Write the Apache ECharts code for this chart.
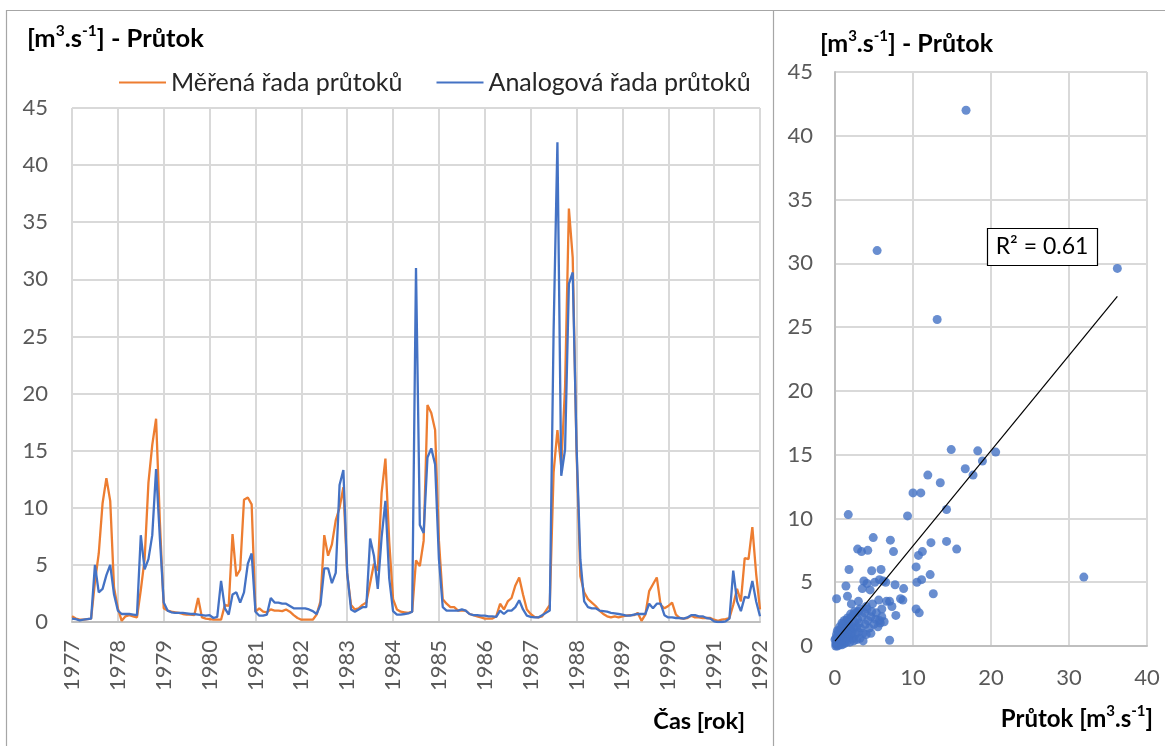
<!DOCTYPE html>
<html>
<head>
<meta charset="utf-8">
<script src="https://cdn.jsdelivr.net/npm/echarts@6/dist/echarts.min.js"></script>
<style>
  html, body { margin: 0; padding: 0; background: #ffffff; }
  #chart { width: 1165px; height: 746px; }
</style>
</head>
<body>
<div id="chart"></div>
<script>
// Monthly discharge 1977-01 .. 1992-01, measured vs. analog series [m3/s]
const seriesNames = ['Měřená řada průtoků', 'Analogová řada průtoků'];

const measured = [
  0.5, 0.3, 0.2, 0.2, 0.25, 0.3, 3.5, 6.0, 10.4, 12.6, 10.6, 3.0,      // 1977
  1.2, 0.1, 0.5, 0.6, 0.5, 0.4, 2.8, 5.5, 12.2, 15.5, 17.8, 8.7,       // 1978
  1.2, 1.0, 0.9, 0.85, 0.8, 0.7, 0.65, 0.65, 0.6, 2.1, 0.4, 0.3,       // 1979
  0.25, 0.2, 0.2, 0.2, 1.5, 1.4, 7.7, 4.0, 4.6, 10.7, 10.9, 10.3,      // 1980
  0.9, 1.2, 0.9, 0.85, 1.1, 1.0, 1.0, 0.95, 1.1, 0.9, 0.6, 0.35,       // 1981
  0.2, 0.2, 0.2, 0.2, 0.65, 1.8, 7.6, 5.8, 6.8, 8.9, 10.0, 11.8,       // 1982
  4.2, 1.5, 1.1, 1.2, 1.5, 1.7, 3.4, 5.1, 4.5, 11.3, 14.3, 7.0,        // 1983
  2.0, 1.1, 0.9, 0.85, 0.8, 0.9, 5.4, 4.9, 7.1, 19.0, 18.3, 16.8,      // 1984
  7.1, 2.0, 1.6, 1.3, 1.3, 1.0, 1.0, 1.0, 0.7, 0.6, 0.5, 0.4,          // 1985
  0.3, 0.3, 0.3, 0.5, 1.6, 1.1, 1.8, 2.1, 3.2, 3.9, 2.4, 1.1,          // 1986
  0.7, 0.45, 0.4, 0.5, 1.0, 1.5, 13.1, 16.8, 13.6, 20.6, 36.2, 31.9,   // 1987
  15.0, 4.0, 2.6, 2.0, 1.7, 1.4, 1.0, 0.7, 0.5, 0.4, 0.5, 0.4,         // 1988
  0.5, 0.55, 0.6, 0.6, 0.8, 0.1, 0.65, 2.7, 3.3, 3.9, 1.5, 1.2,        // 1989
  1.4, 1.7, 0.65, 0.35, 0.3, 0.35, 0.55, 0.4, 0.4, 0.35, 0.35, 0.35,   // 1990
  0.2, 0.1, 0.2, 0.25, 0.35, 1.5, 2.9, 1.8, 5.6, 5.5, 8.3, 4.2,        // 1991
  1.1                                                                 // 1992
];

const analog = [
  0.3, 0.25, 0.15, 0.2, 0.25, 0.3, 5.0, 2.6, 2.9, 4.1, 5.0, 2.4,       // 1977
  1.0, 0.7, 0.7, 0.7, 0.65, 0.6, 7.6, 4.6, 5.5, 7.6, 13.4, 7.3,        // 1978
  1.7, 1.0, 0.85, 0.8, 0.8, 0.8, 0.75, 0.7, 0.7, 0.65, 0.6, 0.55,      // 1979
  0.6, 0.35, 0.45, 3.6, 1.2, 0.65, 2.4, 2.6, 1.7, 2.6, 5.1, 6.0,       // 1980
  0.9, 0.55, 0.55, 0.65, 2.1, 1.7, 1.7, 1.6, 1.6, 1.4, 1.2, 1.2,       // 1981
  1.2, 1.2, 1.1, 0.95, 0.7, 1.5, 4.7, 4.7, 3.4, 4.3, 12.0, 13.3,       // 1982
  4.3, 1.1, 0.9, 1.1, 1.3, 1.3, 7.3, 5.8, 2.9, 7.4, 10.6, 3.8,         // 1983
  0.95, 0.65, 0.65, 0.7, 0.75, 0.9, 31.0, 8.5, 7.8, 14.4, 15.2, 13.8,  // 1984
  5.5, 1.3, 1.0, 1.0, 1.0, 1.0, 1.1, 1.0, 0.7, 0.6, 0.6, 0.55,         // 1985
  0.55, 0.5, 0.5, 0.45, 1.0, 0.7, 1.0, 1.0, 1.3, 1.9, 1.1, 0.55,       // 1986
  0.45, 0.4, 0.4, 0.6, 0.8, 1.0, 25.5, 42.0, 12.8, 15.1, 29.6, 30.6,   // 1987
  15.4, 5.5, 1.8, 1.3, 1.2, 1.2, 1.0, 0.95, 0.9, 0.8, 0.75, 0.7,       // 1988
  0.65, 0.55, 0.55, 0.65, 0.7, 0.7, 0.7, 1.6, 1.2, 1.6, 1.6, 0.6,      // 1989
  0.4, 0.4, 0.35, 0.35, 0.3, 0.4, 0.6, 0.6, 0.5, 0.5, 0.35, 0.3,       // 1990
  0.05, 0.0, 0.0, 0.05, 0.3, 4.5, 1.8, 0.95, 2.2, 2.1, 3.6, 1.8,       // 1991
  0.5                                                                 // 1992
];

// Correlation panel: measured discharge (x) against analog discharge (y)
const scatterMeasured = [
  16.8, 5.4, 13.1, 36.2, 31.9, 31.9,
  14.9, 18.3, 20.6, 18.9, 16.7, 17.7, 11.9, 13.5, 10.0, 11.0,
  1.7, 9.3, 14.3,
  4.9, 7.1, 12.3, 14.3, 15.6, 2.9, 3.4, 4.2, 7.5, 10.7, 11.2,
  10.4, 1.8, 5.9, 4.7, 12.2, 10.5, 11.1, 12.6,
  10.4, 10.8, 7.0, 7.8, 8.7, 8.4, 8.8, 7.7, 6.5,
  0.2, 1.4, 7.0, 7.3, 5.6, 6.6,
  3.7, 4.1, 3.5, 4.5, 5.1, 5.7, 6.2,
  1.6, 2.1, 3.0, 5.7, 6.0, 3.6, 5.8, 5.2, 4.1, 4.7, 3.0,
  0.1, 0.1, 0.2, 0.2, 0.3, 0.3, 0.4, 0.4, 0.5, 0.5,
  0.5, 0.6, 0.6, 0.7, 0.7, 0.7, 0.8, 0.8, 0.9, 0.9,
  1.0, 1.0, 1.0, 1.1, 1.1, 1.2, 1.2, 1.3, 1.3, 1.4,
  1.4, 1.5, 1.5, 1.6, 1.6, 1.7, 1.8, 1.8, 1.9, 2.0,
  2.0, 2.1, 2.2, 2.3, 2.3, 2.4, 2.5, 2.6, 2.7, 2.8,
  2.9, 3.0, 3.1, 3.2, 3.3, 3.5, 3.6, 3.8, 3.9, 4.0,
  4.2, 4.4, 4.6, 4.8, 5.0, 5.3, 5.5, 6.0, 6.3, 0.0,
  0.1, 0.2, 0.3, 0.6, 0.9, 1.2, 1.6, 2.0, 2.5, 0.3,
  0.6, 0.9, 1.2, 1.5, 1.9, 2.4, 2.8, 3.2, 4.0, 4.6
];
const scatterAnalog = [
  42.0, 31.0, 25.6, 29.6, 30.6, 5.4,
  15.4, 15.3, 15.2, 14.5, 13.9, 13.4, 13.4, 12.8, 12.0, 12.0,
  10.3, 10.2, 10.7,
  8.5, 8.3, 8.1, 8.2, 7.6, 7.6, 7.4, 7.5, 7.4, 7.1, 7.4,
  6.2, 6.0, 6.0, 5.9, 5.6, 5.0, 5.2, 4.1,
  2.9, 2.6, 0.45, 2.4, 3.6, 3.7, 4.5, 4.8, 5.0,
  3.7, 4.7, 3.5, 3.1, 3.6, 3.5,
  5.1, 4.9, 4.5, 4.4, 5.0, 5.2, 5.1,
  3.9, 3.3, 3.5, 2.0, 2.9, 0.4, 1.8, 2.1, 2.9, 2.7, 2.7,
  0.0, 0.2, 0.1, 0.4, 0.2, 0.6, 0.3, 0.9, 0.1, 0.5,
  1.2, 0.4, 0.8, 0.2, 0.6, 1.0, 0.5, 1.4, 0.3, 0.8,
  0.6, 1.1, 1.7, 0.4, 0.9, 0.7, 1.3, 0.5, 1.0, 1.6,
  0.8, 1.2, 2.0, 0.6, 1.4, 1.0, 1.8, 0.7, 1.3, 2.2,
  0.9, 1.6, 1.1, 2.4, 0.6, 1.4, 1.9, 0.9, 2.6, 1.5,
  2.1, 1.1, 1.8, 2.9, 1.4, 2.3, 1.0, 2.6, 1.7, 3.1,
  2.0, 1.4, 2.3, 3.3, 1.7, 2.6, 1.5, 2.3, 1.9, 0.5,
  0.6, 0.9, 1.2, 1.5, 1.8, 2.0, 2.2, 2.5, 2.7, 0.0,
  0.1, 0.1, 0.2, 0.3, 0.3, 0.4, 0.5, 0.6, 0.9, 1.0
];

// Month categories "YYYY-MM"; only January of each year gets a tick label
const firstYear = 1977;
const lastYear = 1992;
const months = [];
for (let y = firstYear; y < lastYear; y++) {
  for (let m = 1; m <= 12; m++) months.push(y + '-' + (m < 10 ? '0' + m : m));
}
months.push(lastYear + '-01');

const yTicks = { min: 0, max: 45, step: 5 };
const xScatterTicks = { min: 0, max: 40, step: 10 };
const r2Text = 'R² = 0.61';

// Scatter pairs and their least-squares trend line
const pairs = scatterMeasured.map((v, i) => [v, scatterAnalog[i]]);
const n = pairs.length;
let sx = 0, sy = 0, sxx = 0, sxy = 0;
pairs.forEach(([x, y]) => { sx += x; sy += y; sxx += x * x; sxy += x * y; });
const slope = (n * sxy - sx * sy) / (n * sxx - sx * sx);
const intercept = (sy - slope * sx) / n;
const xLo = Math.min(...scatterMeasured), xHi = Math.max(...scatterMeasured);
const trend = [[xLo, intercept + slope * xLo], [xHi, intercept + slope * xHi]];

const FONT = 'Lato, "Open Sans", "DejaVu Sans", sans-serif';
const ORANGE = '#ed7d31';
const BLUE = '#4472c4';
const GRID = '#d9d9d9';
const AXIS = '#bfbfbf';
const TICK = '#595959';

const isJanuary = idx => idx % 12 === 0;

function unitRich(size, supSize) {
  return {
    b: { fontFamily: FONT, fontSize: size, fontWeight: 'bold', color: '#000', lineHeight: size + 6 },
    s: { fontFamily: FONT, fontSize: supSize, fontWeight: 'bold', color: '#000', lineHeight: supSize + 3, verticalAlign: 'top' }
  };
}
const unitTitle = '{b|[m}{s|3}{b|.s}{s|-1}{b|] - Průtok}';
const unitAxisName = '{b|Průtok [m}{s|3}{b|.s}{s|-1}{b|]}';

const chart = echarts.init(document.getElementById('chart'), null, { renderer: 'canvas' });

chart.setOption({
  animation: false,
  backgroundColor: '#ffffff',
  textStyle: { fontFamily: FONT },
  legend: {
    data: seriesNames,
    left: 114,
    top: 65,
    icon: 'rect',
    itemWidth: 47,
    itemHeight: 2,
    itemGap: 34,
    textStyle: { fontFamily: FONT, fontSize: 25, color: '#262626' }
  },
  grid: [
    { left: 72, top: 108, width: 688, height: 514 },
    { left: 835, top: 72, width: 312, height: 574 }
  ],
  xAxis: [
    {
      gridIndex: 0,
      type: 'category',
      data: months,
      boundaryGap: false,
      axisLine: { show: true, lineStyle: { color: AXIS, width: 2 } },
      axisTick: { show: false },
      axisLabel: {
        interval: isJanuary,
        rotate: 90,
        margin: 18,
        fontFamily: FONT,
        fontSize: 22,
        color: TICK,
        formatter: v => v.slice(0, 4)
      },
      splitLine: { show: true, interval: isJanuary, lineStyle: { color: GRID, width: 2 } }
    },
    {
      gridIndex: 1,
      type: 'value',
      min: xScatterTicks.min,
      max: xScatterTicks.max,
      interval: xScatterTicks.step,
      axisLine: { show: true, lineStyle: { color: AXIS, width: 2 } },
      axisTick: { show: false },
      axisLabel: { margin: 21, fontFamily: FONT, fontSize: 22, color: TICK },
      splitLine: { show: true, lineStyle: { color: GRID, width: 2 } }
    }
  ],
  yAxis: [
    {
      gridIndex: 0,
      type: 'value',
      min: yTicks.min,
      max: yTicks.max,
      interval: yTicks.step,
      axisLine: { show: false },
      axisTick: { show: false },
      axisLabel: { margin: 24, fontFamily: FONT, fontSize: 22, color: TICK },
      splitLine: { show: true, lineStyle: { color: GRID, width: 2 } }
    },
    {
      gridIndex: 1,
      type: 'value',
      min: yTicks.min,
      max: yTicks.max,
      interval: yTicks.step,
      axisLine: { show: true, lineStyle: { color: AXIS, width: 2 } },
      axisTick: { show: false },
      axisLabel: { margin: 22, fontFamily: FONT, fontSize: 22, color: TICK },
      splitLine: { show: true, lineStyle: { color: GRID, width: 2 } }
    }
  ],
  series: [
    {
      name: seriesNames[0],
      type: 'line',
      xAxisIndex: 0, yAxisIndex: 0,
      data: measured,
      symbol: 'none',
      color: ORANGE,
      lineStyle: { color: ORANGE, width: 2.3 },
      z: 2
    },
    {
      name: seriesNames[1],
      type: 'line',
      xAxisIndex: 0, yAxisIndex: 0,
      data: analog,
      symbol: 'none',
      color: BLUE,
      lineStyle: { color: BLUE, width: 2.3 },
      z: 3
    },
    {
      name: 'scatter',
      type: 'scatter',
      xAxisIndex: 1, yAxisIndex: 1,
      data: pairs,
      symbol: 'circle',
      symbolSize: 9,
      itemStyle: { color: BLUE },
      z: 2
    },
    {
      name: 'trend',
      type: 'line',
      xAxisIndex: 1, yAxisIndex: 1,
      data: trend,
      symbol: 'none',
      silent: true,
      lineStyle: { color: '#000000', width: 1.2 },
      z: 4
    }
  ],
  graphic: [
    // panel frames
    { type: 'rect', shape: { x: 6.5, y: 10.5, width: 1170, height: 750 },
      style: { fill: null, stroke: '#a6a6a6', lineWidth: 1.2 }, silent: true, z: 0 },
    { type: 'line', shape: { x1: 773.5, y1: 10.5, x2: 773.5, y2: 760 },
      style: { stroke: '#a6a6a6', lineWidth: 1.2 }, silent: true, z: 0 },
    // titles
    { type: 'text', x: 27, y: 39,
      style: { text: unitTitle, rich: unitRich(25.5, 15.5), align: 'left', verticalAlign: 'middle' } },
    { type: 'text', x: 820, y: 44,
      style: { text: unitTitle, rich: unitRich(25, 15), align: 'left', verticalAlign: 'middle' } },
    // axis names
    { type: 'text', x: 745, y: 721,
      style: { text: 'Čas [rok]', fontFamily: FONT, fontSize: 23.5, fontWeight: 'bold', fill: '#000',
               align: 'right', verticalAlign: 'middle' } },
    { type: 'text', x: 1153, y: 719,
      style: { text: unitAxisName, rich: unitRich(24, 15), align: 'right', verticalAlign: 'middle' } },
    // R² box
    { type: 'rect', shape: { x: 987.5, y: 228.5, width: 110, height: 37 },
      style: { fill: '#ffffff', stroke: '#000000', lineWidth: 1.2 }, z: 10 },
    { type: 'text', x: 1042, y: 247, z: 11,
      style: { text: r2Text, fontFamily: FONT, fontSize: 23, fill: '#000',
               align: 'center', verticalAlign: 'middle' } }
  ]
});
</script>
</body>
</html>
